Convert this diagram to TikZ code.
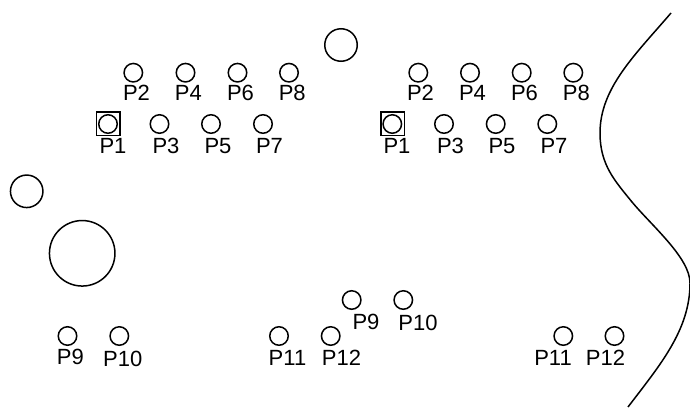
\documentclass[tikz,border=0pt]{standalone}
\usepackage{fontspec}
\setmainfont{Liberation Sans}
\tikzset{
  pin/.style={circle,draw=black,line width=1.5pt,minimum size=18.5pt,inner sep=0pt,outer sep=0pt},
  lbl/.style={anchor=base,inner sep=0pt,outer sep=0pt,font=\fontsize{22}{22}\selectfont,text=black},
  hole/.style={circle,draw=black,line width=1.5pt,inner sep=0pt,outer sep=0pt},
  keybox/.style={draw=black,line width=1.5pt,minimum size=23.5pt,inner sep=0pt,outer sep=0pt}
}
\begin{document}
\begin{tikzpicture}[x=1pt,y=-1pt]
\useasboundingbox (0,0) rectangle (690,407);
\foreach \n/\x/\y/\lx/\ly/\t in {a2/133.3/72.7/136.5/100/P2,a4/185.5/72.7/188.3/100/P4,a6/237.5/72.7/240.5/100/P6,a8/289/72.7/292.2/100/P8,
 a1/108/124/113/153.3/P1,a3/159.5/124/166/153.3/P3,a5/211/124/218/153.3/P5,a7/263/124/269.5/153.3/P7,
 b2/418.3/72.7/420.5/100/P2,b4/470/72.7/472.5/100/P4,b6/521.7/72.7/524.5/100/P6,b8/573.3/72.7/576.3/100/P8,
 b1/392.3/124/397/153.3/P1,b3/444/124/450.5/153.3/P3,b5/495.7/124/502/153.3/P5,b7/547.3/124/554/153.3/P7,
 c9/67.5/336/70.3/364.5/P9,c10/119.3/336/122.7/366/P10,c11/279/336/287.5/365/P11,c12/330.7/336/341.5/365/P12,
 d9/351.7/300/366/329/P9,d10/403.3/300/418/330.7/P10,e11/563.3/336/553/365/P11,e12/614.5/336/605.5/365/P12}{
  \node[pin] (\n) at (\x,\y) {};
  \node[lbl] (t\n) at (\lx,\ly) {\t};
}
\node[keybox] (ka) at (108.2,123.5) {};
\node[keybox] (kb) at (392.5,123.5) {};
\node[hole,minimum size=32.5pt] (h1) at (341,45) {};
\node[hole,minimum size=32.5pt] (h2) at (26.7,191.3) {};
\node[hole,minimum size=65.5pt] (h3) at (82.2,253.3) {};
\draw[black,line width=1.5pt] (671,13) .. controls (635,55) and (600,88) .. (600,133)
  .. controls (600,165) and (615,181) .. (632,202)
  .. controls (652,226) and (690,258) .. (690,283)
  .. controls (690,330) and (660,365) .. (628,407);
\end{tikzpicture}
\end{document}
